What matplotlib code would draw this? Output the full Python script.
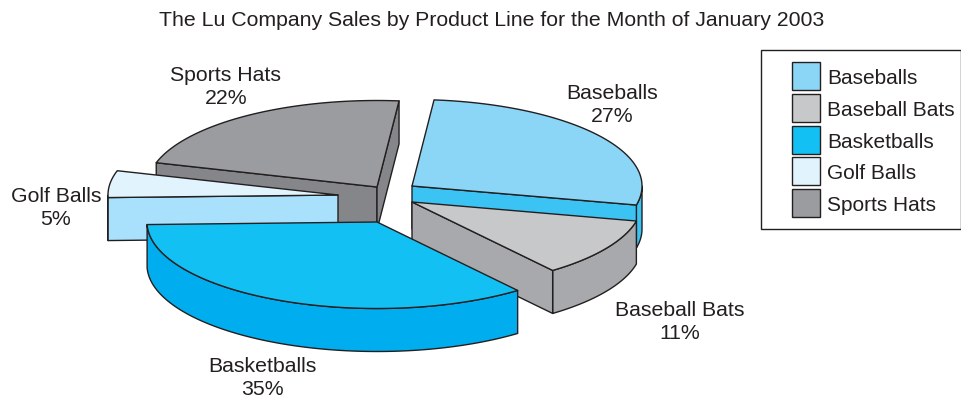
import matplotlib.pyplot as plt
import numpy as np
from matplotlib.patches import Polygon, Rectangle

plt.rcParams.update({
    "font.family": "Liberation Sans",
    "font.size": 15,
    "text.color": "#231f20",
})

products = ["Baseballs", "Baseball Bats", "Basketballs", "Golf Balls", "Sports Hats"]
shares = [27, 11, 35, 5, 22]
title = "The Lu Company Sales by Product Line for the Month of January 2003"

top_colors = ["#8bd6f7", "#c6c8ca", "#13c0f4", "#e1f4fd", "#9a9c9f"]
side_colors = ["#3bc4f3", "#a7a9ac", "#00aeef", "#a9e0fb", "#848689"]

# pixel layout of the exploded pie
apex_x = [412, 412, 377, 338, 377]
apex_y = [186, 202, 222, 195, 187]
label_x = [612, 680, 262, 56, 226]
label_y = [105, 322, 378, 208, 87]
draw_order = [4, 3, 0, 1, 2]

RX = 230.0
RY = 86.5
DEPTH = 43.0
START_ANGLE = 84.5
EDGE = "#231f20"
LW = 1.0


def ellipse_points(cx, cy, a1, a2):
    t = np.radians(np.linspace(a1, a2, 120))
    return np.column_stack((cx + RX * np.cos(t), cy - RY * np.sin(t)))


def add_poly(ax, pts, color):
    ax.add_patch(Polygon(pts, closed=True, facecolor=color, edgecolor=EDGE,
                         linewidth=LW, joinstyle="round"))


def wall(ax, p1, p2, color):
    pts = [p1, p2, (p2[0], p2[1] + DEPTH), (p1[0], p1[1] + DEPTH)]
    add_poly(ax, pts, color)


def draw_slice(ax, cx, cy, a1, a2, top, side):
    # a1 > a2, the slice runs clockwise
    rim = ellipse_points(cx, cy, a1, a2)
    apex = (cx, cy)

    # front part of the rim wall only
    t = np.linspace(a1, a2, 240)
    front = t[np.sin(np.radians(t)) <= 0]
    if len(front) > 1:
        arc = ellipse_points(cx, cy, front[0], front[-1])
        lower = arc[::-1] + [0, DEPTH]
        add_poly(ax, np.vstack((arc, lower)), side)

    # cut faces that look towards the viewer
    if np.cos(np.radians(a1)) < 0:
        wall(ax, apex, rim[0], side)
    if np.cos(np.radians(a2)) > 0:
        wall(ax, apex, rim[-1], side)

    add_poly(ax, np.vstack(([apex], rim)), top)


fig = plt.figure(figsize=(9.62, 3.98), dpi=100)
ax = fig.add_axes([0, 0, 1, 1])
ax.set_xlim(0, 962)
ax.set_ylim(398, 0)
ax.axis("off")

spans = np.array(shares) / sum(shares) * 360.0
starts = START_ANGLE - np.concatenate(([0.0], np.cumsum(spans)[:-1]))

for i in draw_order:
    draw_slice(ax, apex_x[i], apex_y[i], starts[i], starts[i] - spans[i],
               top_colors[i], side_colors[i])

for i, name in enumerate(products):
    ax.text(label_x[i], label_y[i], f"{name}\n{shares[i]}%", ha="center",
            va="center", fontsize=15.3, linespacing=1.28)

ax.text(492, 20.5, title, ha="center", va="center", fontsize=15.3)

# legend box
ax.add_patch(Rectangle((761, 50), 200, 179, facecolor="white", edgecolor=EDGE,
                       linewidth=LW))
for i, name in enumerate(products):
    y = 62.3 + 31.7 * i
    ax.add_patch(Rectangle((792, y), 28, 28, facecolor=top_colors[i],
                           edgecolor=EDGE, linewidth=LW))
    ax.text(827, y + 16.5, name, ha="left", va="center", fontsize=15)

fig.savefig("out.png", dpi=100)
